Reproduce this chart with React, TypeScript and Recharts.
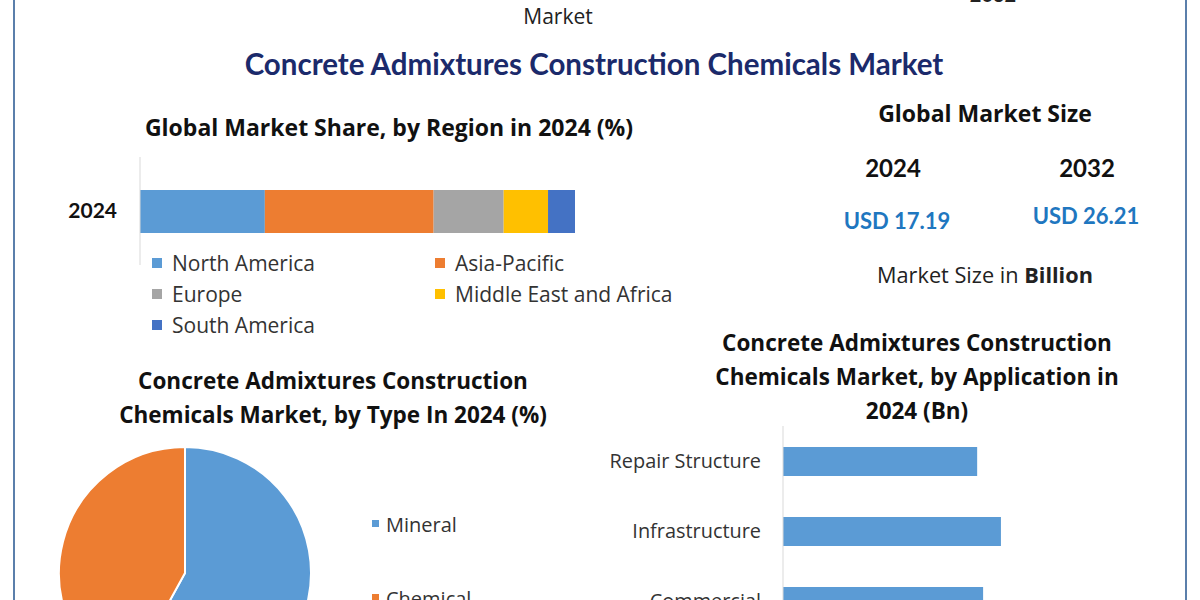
import React from 'react';
import { BarChart, Bar, XAxis, YAxis, PieChart, Pie, Cell } from 'recharts';

const regionCategories = ['2024'];
const regionNames = ['North America', 'Asia-Pacific', 'Europe', 'Middle East and Africa', 'South America'];
const regionKeys = ['na', 'ap', 'eu', 'mea', 'sa'];
const regionValues = [28.7, 38.8, 16.1, 10.2, 6.2];
const regionColors = ['#5b9bd5', '#ed7d31', '#a5a5a5', '#ffc000', '#4472c4'];

const typeNames = ['Mineral', 'Chemical'];
const typeValues = [58, 42];
const typeColors = ['#5b9bd5', '#ed7d31'];

const appCategories = ['Repair Structure', 'Infrastructure', 'Commercial'];
const appValues = [4.9, 5.5, 5.05];

const sizeYears = ['2024', '2032'];
const sizeValues = ['USD 17.19', 'USD 26.21'];

const LATO = "Lato, 'Open Sans', sans-serif";
const OPEN = "'Open Sans', Lato, sans-serif";

const regionData = regionCategories.map((c) => {
  const row: any = { name: c };
  regionKeys.forEach((k, i) => (row[k] = regionValues[i]));
  return row;
});
const typeData = typeNames.map((n, i) => ({ name: n, value: typeValues[i] }));
const appData = appCategories.map((c, i) => ({ name: c, value: appValues[i] }));

const abs = (left: number, top: number, extra: any = {}) => ({
  position: 'absolute' as const,
  left,
  top,
  ...extra,
});

function CenterText({ cx, cy, children, size, bold, color, lh, font }: any) {
  return (
    <div
      style={{
        position: 'absolute',
        left: cx - 600,
        width: 1200,
        top: cy,
        transform: 'translateY(-50%)',
        textAlign: 'center',
        fontSize: size,
        fontWeight: bold ? 700 : 400,
        fontFamily: font || LATO,
        color: color || '#111',
        lineHeight: lh ? lh + 'px' : 'normal',
        whiteSpace: 'nowrap',
      }}
    >
      {children}
    </div>
  );
}

export default function App() {
  return (
    <div
      style={{
        position: 'fixed',
        left: 0,
        top: 0,
        width: 1200,
        height: 600,
        overflow: 'hidden',
        background: '#ffffff',
        fontFamily: LATO,
      }}
    >
      {/* borders */}
      <div style={abs(13, 0, { width: 2, height: 600, background: '#5b7fab' })} />
      <div style={abs(1185, 0, { width: 2, height: 600, background: '#5b7fab' })} />

      {/* cut-off header remnants */}
      <CenterText cx={558} cy={16} size={21} color="#222" font={OPEN}>Market</CenterText>
      <CenterText cx={993} cy={-6} size={20} bold color="#222">2032</CenterText>

      {/* main title */}
      <CenterText cx={594} cy={63} size={29.5} bold color="#1b2a6b">
        Concrete Admixtures Construction Chemicals Market
      </CenterText>

      {/* Region chart */}
      <CenterText cx={389} cy={127} size={23} bold font={OPEN}>
        Global Market Share, by Region in 2024 (%)
      </CenterText>
      <div style={abs(0, 150)}>
        <BarChart
          width={600}
          height={120}
          layout="vertical"
          data={regionData}
          margin={{ top: 7, right: 25, left: 0, bottom: 5 }}
        >
          <XAxis type="number" domain={[0, 100]} hide />
          <YAxis
            type="category"
            dataKey="name"
            width={140}
            axisLine={{ stroke: '#d9d9d9' }}
            tickLine={false}
            tickMargin={17}
            tick={{ fill: '#111', fontSize: 21, fontWeight: 700, fontFamily: LATO }}
          />
          {regionKeys.map((k, i) => (
            <Bar key={k} dataKey={k} stackId="a" fill={regionColors[i]} barSize={43} isAnimationActive={false} />
          ))}
        </BarChart>
      </div>
      {regionNames.map((n, i) => {
        const col = i % 2;
        const row = Math.floor(i / 2);
        const sx = col === 0 ? 152 : 435;
        const cy = 263 + row * 31;
        return (
          <React.Fragment key={n}>
            <div style={abs(sx, cy - 5, { width: 10, height: 10, background: regionColors[i] })} />
            <div
              style={abs(sx + 20, cy, {
                transform: 'translateY(-50%)',
                fontSize: 21,
                fontFamily: OPEN,
                color: '#333',
                whiteSpace: 'nowrap',
              })}
            >
              {n}
            </div>
          </React.Fragment>
        );
      })}

      {/* Market size panel */}
      <CenterText cx={985} cy={113} size={23} bold font={OPEN}>Global Market Size</CenterText>
      <CenterText cx={893} cy={167} size={24} bold>{sizeYears[0]}</CenterText>
      <CenterText cx={1087} cy={167} size={24} bold>{sizeYears[1]}</CenterText>
      <CenterText cx={897} cy={220} size={22} bold color="#1f77c0">{sizeValues[0]}</CenterText>
      <CenterText cx={1086} cy={215} size={22} bold color="#1f77c0">{sizeValues[1]}</CenterText>
      <CenterText cx={985} cy={274} size={21.7} color="#222" font={OPEN}>
        Market Size in <b>Billion</b>
      </CenterText>

      {/* Pie chart */}
      <CenterText cx={333} cy={398} size={22.5} bold lh={34} font={OPEN}>
        Concrete Admixtures Construction
        <br />
        Chemicals Market, by Type In 2024 (%)
      </CenterText>
      <div style={abs(0, 440)}>
        <PieChart width={340} height={300}>
          <Pie
            data={typeData}
            dataKey="value"
            cx={180}
            cy={128}
            outerRadius={126}
            startAngle={90}
            endAngle={-270}
            stroke="#ffffff"
            strokeWidth={2}
            isAnimationActive={false}
          >
            {typeData.map((d, i) => (
              <Cell key={d.name} fill={typeColors[i]} />
            ))}
          </Pie>
        </PieChart>
      </div>
      {typeNames.map((n, i) => {
        const cy = 524 + i * 74;
        return (
          <React.Fragment key={n}>
            <div style={abs(372, cy - 4, { width: 7, height: 7, background: typeColors[i] })} />
            <div
              style={abs(386, cy, {
                transform: 'translateY(-50%)',
                fontSize: 20,
                fontFamily: OPEN,
                color: '#333',
                whiteSpace: 'nowrap',
              })}
            >
              {n}
            </div>
          </React.Fragment>
        );
      })}

      {/* Application chart */}
      <CenterText cx={917} cy={377} size={22.5} bold lh={34} font={OPEN}>
        Concrete Admixtures Construction
        <br />
        Chemicals Market, by Application in
        <br />
        2024 (Bn)
      </CenterText>
      <div style={abs(580, 420)}>
        <BarChart
          width={600}
          height={230}
          layout="vertical"
          data={appData}
          margin={{ top: 6, right: 80, left: 0, bottom: 14 }}
        >
          <XAxis type="number" domain={[0, 8]} hide />
          <YAxis
            type="category"
            dataKey="name"
            width={203}
            axisLine={{ stroke: '#d9d9d9' }}
            tickLine={false}
            tickMargin={16}
            tick={{ fill: '#333', fontSize: 19.9, fontFamily: OPEN }}
          />
          <Bar dataKey="value" fill="#5b9bd5" barSize={29} isAnimationActive={false} />
        </BarChart>
      </div>
    </div>
  );
}
